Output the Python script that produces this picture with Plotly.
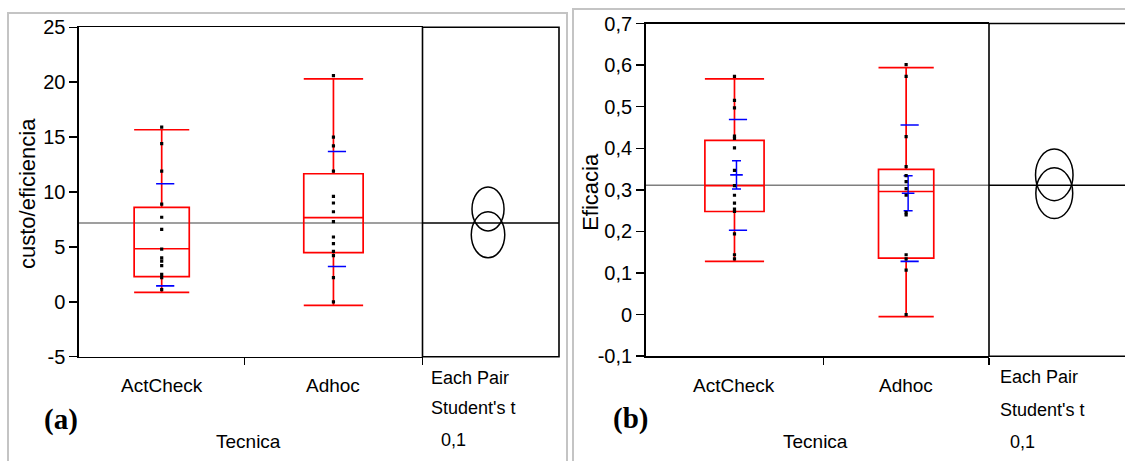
import plotly.graph_objects as go

# ---------------- data ----------------
groups = ["ActCheck", "Adhoc"]

# panel (a): custo/eficiencia
a_n = [13, 14]
a_pts_actcheck = [15.9, 14.4, 11.9, 8.9, 7.7, 6.6, 4.8, 4.0, 3.7, 3.3, 2.5, 2.2, 1.1]
a_pts_adhoc = [20.6, 15.0, 14.2, 11.9, 9.6, 9.0, 8.2, 7.3, 5.9, 5.3, 4.6, 4.2, 2.2, 0.0]
a_q1 = [2.3, 4.47]
a_median = [4.83, 7.67]
a_q3 = [8.6, 11.66]
a_lowerfence = [0.85, -0.33]
a_upperfence = [15.67, 20.3]
a_mean = [6.1, 8.45]
a_sd = [4.65, 5.24]
a_circle_radius = [2.09, 2.0]
a_grand_mean = 7.18
a_yticks = [-5, 0, 5, 10, 15, 20, 25]
a_yticklabels = ["-5", "0", "5", "10", "15", "20", "25"]

# panel (b): Eficacia
b_n = [15, 14]
b_pts_actcheck = [0.573, 0.515, 0.497, 0.429, 0.424, 0.401, 0.347, 0.31, 0.287, 0.268,
                  0.254, 0.248, 0.194, 0.144, 0.134]
b_pts_adhoc = [0.601, 0.573, 0.428, 0.356, 0.334, 0.320, 0.303, 0.287, 0.245, 0.240,
               0.144, 0.134, 0.107, 0.0]
b_q1 = [0.248, 0.136]
b_median = [0.310, 0.296]
b_q3 = [0.419, 0.349]
b_lowerfence = [0.128, -0.005]
b_upperfence = [0.567, 0.594]
b_mean = [0.336, 0.292]
b_sd = [0.133, 0.164]
b_se = [0.034, 0.042]
b_circle_radius = [0.062, 0.061]
b_grand_mean = 0.311
b_yticks = [-0.1, 0, 0.1, 0.2, 0.3, 0.4, 0.5, 0.6, 0.7]
b_yticklabels = ["-0,1", "0", "0,1", "0,2", "0,3", "0,4", "0,5", "0,6", "0,7"]

x_title = "Tecnica"
compare_lines = ["Each Pair", "Student's t", "&nbsp;&nbsp;0,1"]

# ---------------- layout helpers ----------------
W, H = 1125, 461
def px(x):
    return x / W
def py(y):
    return 1 - y / H

FONT = "Liberation Sans, Arial, sans-serif"
TXT = 19
RED = "#ff0000"
BLUE = "#0000ff"

fig = go.Figure()
shapes = []
annotations = []

def ann(x, y, text, size=TXT, xanchor="center", family=FONT, angle=0, xref="paper"):
    annotations.append(dict(x=x, y=y, xref=xref, yref="paper", text=text, showarrow=False,
                            xanchor=xanchor, yanchor="middle", textangle=angle,
                            font=dict(family=family, size=size, color="black")))

def panel(pts, n, q1, med, q3, lo, hi, mean, sd, se, radius, grand, yticks, ylabels,
          xb, xc, ytop, ybot, ax, label, ytitle, ytitle_x, letter_xy, tecnica_x, cmp_x, cmp_y,
          circle_right_line):
    xa, ya, xca = ax
    xr = "x" if xa == 1 else "x%d" % xa
    yr = "y" if ya == 1 else "y%d" % ya
    xcr = "x%d" % xca
    total = sum(n)
    starts = [sum(n[:i]) for i in range(len(n))]
    centers = [s + k / 2 for s, k in zip(starts, n)]
    unit_px = (xb[1] - xb[0]) / total
    ypx_per_unit = (ybot - ytop) / (yticks[-1] - yticks[0])

    for i, g in enumerate(groups):
        fig.add_trace(go.Box(
            x=[centers[i]], q1=[q1[i]], median=[med[i]], q3=[q3[i]],
            lowerfence=[lo[i]], upperfence=[hi[i]], width=n[i] / 3, whiskerwidth=1,
            line=dict(color=RED, width=1.7), fillcolor="rgba(0,0,0,0)",
            boxpoints=False, hoverinfo="skip", showlegend=False,
            xaxis=xr, yaxis=yr))
        sdx = centers[i] + 3.5 / unit_px
        fig.add_trace(go.Scatter(
            x=[sdx, sdx], y=[mean[i] - sd[i], mean[i] + sd[i]], mode="markers",
            marker=dict(symbol="line-ew", size=13, line=dict(color=BLUE, width=1.6)),
            hoverinfo="skip", showlegend=False, xaxis=xr, yaxis=yr))
        if se is not None:
            ex = centers[i] + 2 / unit_px
            fig.add_trace(go.Scatter(
                x=[ex], y=[mean[i]], mode="markers",
                marker=dict(symbol="line-ew", size=9, line=dict(color=BLUE, width=1.6)),
                error_y=dict(type="data", array=[se[i]], visible=True, color=BLUE,
                             thickness=1.5, width=4.5),
                hoverinfo="skip", showlegend=False, xaxis=xr, yaxis=yr))
        fig.add_trace(go.Scatter(
            x=[centers[i]] * len(pts[i]), y=pts[i], mode="markers",
            marker=dict(symbol="square", size=3.2, color="black", line=dict(width=0)),
            hoverinfo="skip", showlegend=False, xaxis=xr, yaxis=yr))
        ann(centers[i], py(385), g, xref=xr)

    fig.add_trace(go.Scatter(x=[], y=[], xaxis=xcr, yaxis=yr, showlegend=False))

    fig.layout[("xaxis" if xa == 1 else "xaxis%d" % xa)] = dict(
        domain=[px(xb[0]), px(xb[1])], range=[0, total], anchor=yr,
        showline=True, linecolor="black", linewidth=1.6, mirror=True,
        ticks="outside", tickvals=[s + k for s, k in zip(starts, n)], ticklen=7,
        tickwidth=1.5, tickcolor="black", showticklabels=False, automargin=False,
        showgrid=False, zeroline=False, fixedrange=True)
    fig.layout[("yaxis" if ya == 1 else "yaxis%d" % ya)] = dict(
        domain=[py(ybot), py(ytop)], range=[yticks[0], yticks[-1]], anchor=xr,
        showline=True, linecolor="black", linewidth=1.6, mirror=False,
        ticks="outside", ticklen=8, tickwidth=1.5, tickcolor="black",
        tickvals=yticks, ticktext=ylabels, automargin=False,
        tickfont=dict(family=FONT, size=20, color="black"),
        showgrid=False, zeroline=False, fixedrange=True)
    fig.layout["xaxis%d" % xca] = dict(
        domain=[px(xc[0]), min(1, px(xc[1]))], range=[0, 1], anchor=yr,
        showline=False, showticklabels=False, ticks="", showgrid=False, automargin=False,
        zeroline=False, fixedrange=True)

    x1 = 1 if circle_right_line else 1.2
    shapes.append(dict(type="rect", xref=xcr + " domain", yref=yr + " domain",
                       x0=0, x1=x1, y0=0, y1=1, line=dict(color="black", width=1.6)))
    shapes.append(dict(type="line", xref=xr + " domain", yref=yr, x0=0, x1=1,
                       y0=grand, y1=grand, layer="below",
                       line=dict(color="#7f7f7f", width=1.4)))
    shapes.append(dict(type="line", xref=xcr + " domain", yref=yr, x0=0, x1=x1,
                       y0=grand, y1=grand, line=dict(color="black", width=1.5)))
    cw = xc[1] - xc[0]
    for i in range(len(groups)):
        r = radius[i]
        rx = r * ypx_per_unit * 0.73 / cw
        shapes.append(dict(type="circle", xref=xcr, yref=yr,
                           x0=0.48 - rx, x1=0.48 + rx, y0=mean[i] - r, y1=mean[i] + r,
                           line=dict(color="black", width=1.5)))

    ann(px(ytitle_x), py((ytop + ybot) / 2 + 2), ytitle, size=22, angle=-90)
    ann(px(tecnica_x), py(441.5), x_title)
    ann(px(letter_xy[0]), py(letter_xy[1]), "<b>%s</b>" % label, size=29,
        family="Liberation Serif, Times New Roman, serif")
    for t, yy in zip(compare_lines, cmp_y):
        ann(px(cmp_x), py(yy), t, size=18, xanchor="left")


panel([a_pts_actcheck, a_pts_adhoc], a_n, a_q1, a_median, a_q3, a_lowerfence, a_upperfence,
      a_mean, a_sd, None, a_circle_radius, a_grand_mean, a_yticks, a_yticklabels,
      xb=(79, 422.5), xc=(422.5, 559), ytop=27.3, ybot=356.7, ax=(1, 1, 2),
      label="(a)", ytitle="custo/eficiencia", ytitle_x=27, letter_xy=(61, 419),
      tecnica_x=248.7, cmp_x=429, cmp_y=[378, 408, 440], circle_right_line=True)

panel([b_pts_actcheck, b_pts_adhoc], b_n, b_q1, b_median, b_q3, b_lowerfence, b_upperfence,
      b_mean, b_sd, b_se, b_circle_radius, b_grand_mean, b_yticks, b_yticklabels,
      xb=(645.7, 989), xc=(989, 1125.5), ytop=23.5, ybot=356.2, ax=(3, 3, 4),
      label="(b)", ytitle="Eficacia", ytitle_x=591, letter_xy=(630.5, 418),
      tecnica_x=815.5, cmp_x=998, cmp_y=[377, 410, 442], circle_right_line=False)

shapes.append(dict(type="rect", xref="paper", yref="paper", x0=px(8), x1=px(567),
                   y0=-0.2, y1=py(13), line=dict(color="#c4c4c4", width=2), layer="below"))
shapes.append(dict(type="rect", xref="paper", yref="paper", x0=px(573), x1=1.2,
                   y0=-0.2, y1=py(9), line=dict(color="#c4c4c4", width=2), layer="below"))

fig.update_layout(template=go.layout.Template(),
                  width=W, height=H, margin=dict(l=0, r=0, t=0, b=0, pad=0, autoexpand=False),
                  paper_bgcolor="white", plot_bgcolor="white", showlegend=False,
                  boxmode="overlay", shapes=shapes, annotations=annotations)

fig.write_html("out.html", config={"displayModeBar": False, "staticPlot": True},
               post_script="document.body.style.margin='0';document.body.style.overflow='hidden';")
